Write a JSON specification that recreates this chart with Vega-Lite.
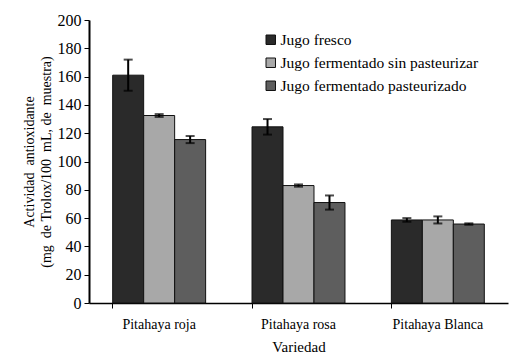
{
  "$schema": "https://vega.github.io/schema/vega-lite/v6.json",
  "width": 419,
  "height": 283,
  "autosize": {"type": "none"},
  "padding": {"left": 89, "top": 20, "right": 2, "bottom": 50},
  "background": "white",
  "config": {
    "font": "Liberation Serif",
    "view": {"stroke": null},
    "axis": {"labelFont": "Liberation Serif", "titleFont": "Liberation Serif", "labelColor": "black", "titleColor": "black", "domainColor": "black", "tickColor": "black", "grid": false, "titleFontWeight": "normal"},
    "axisY": {"labelOverlap": false, "labelFontSize": 16, "titleFontSize": 14, "tickSize": 5, "labelPadding": 3, "titlePadding": 4, "domainWidth": 2, "titleLineHeight": 17},
    "legend": {"labelFont": "Liberation Serif", "labelColor": "black"}
  },
  "data": {
    "values": [
      {"variedad": "Pitahaya roja", "jugo": "Jugo fresco", "valor": 161, "lo": 150, "hi": 172},
      {"variedad": "Pitahaya roja", "jugo": "Jugo fermentado sin pasteurizar", "valor": 132.5, "lo": 131.5, "hi": 133.5},
      {"variedad": "Pitahaya roja", "jugo": "Jugo fermentado pasteurizado", "valor": 115.5, "lo": 113, "hi": 118},
      {"variedad": "Pitahaya rosa", "jugo": "Jugo fresco", "valor": 124.5, "lo": 119, "hi": 130},
      {"variedad": "Pitahaya rosa", "jugo": "Jugo fermentado sin pasteurizar", "valor": 83, "lo": 82.2, "hi": 83.8},
      {"variedad": "Pitahaya rosa", "jugo": "Jugo fermentado pasteurizado", "valor": 71, "lo": 66, "hi": 76},
      {"variedad": "Pitahaya Blanca", "jugo": "Jugo fresco", "valor": 58.7, "lo": 57.4, "hi": 60},
      {"variedad": "Pitahaya Blanca", "jugo": "Jugo fermentado sin pasteurizar", "valor": 58.7, "lo": 56.2, "hi": 61.2},
      {"variedad": "Pitahaya Blanca", "jugo": "Jugo fermentado pasteurizado", "valor": 55.8, "lo": 55.3, "hi": 56.3}
    ]
  },
  "encoding": {
    "x": {
      "field": "variedad", "type": "nominal",
      "sort": ["Pitahaya roja", "Pitahaya rosa", "Pitahaya Blanca"],
      "scale": {"paddingInner": 0.333, "paddingOuter": 0.17},
      "axis": {"title": "Variedad", "labelAngle": 0, "labelFontSize": 14, "titleFontSize": 15, "tickSize": 5, "bandPosition": 0, "labelPadding": 9, "titlePadding": 8, "domainWidth": 1.5, "tickWidth": 1}
    },
    "xOffset": {"field": "jugo", "type": "nominal", "sort": ["Jugo fresco", "Jugo fermentado sin pasteurizar", "Jugo fermentado pasteurizado"], "scale": {"paddingInner": 0, "paddingOuter": 0}}
  },
  "layer": [
    {
      "mark": {"type": "bar", "stroke": "#111111", "strokeWidth": 1},
      "encoding": {
        "y": {
          "field": "valor", "type": "quantitative",
          "scale": {"domain": [0, 200], "nice": false},
          "axis": {"values": [0, 20, 40, 60, 80, 100, 120, 140, 160, 180, 200], "title": ["Actividad\u00a0\u00a0antioxidante", "(mg\u00a0\u00a0de\u00a0Trolox/100\u00a0\u00a0mL,\u00a0de\u00a0\u00a0muestra)"]}
        },
        "color": {
          "field": "jugo", "type": "nominal",
          "sort": ["Jugo fresco", "Jugo fermentado sin pasteurizar", "Jugo fermentado pasteurizado"],
          "scale": {"domain": ["Jugo fresco", "Jugo fermentado sin pasteurizar", "Jugo fermentado pasteurizado"], "range": ["#2a2a2a", "#a8a8a8", "#5e5e5e"]},
          "legend": {"title": null, "orient": "none", "legendX": 174, "legendY": 12, "symbolType": "square", "symbolSize": 90, "symbolStrokeColor": "#111111", "symbolStrokeWidth": 1, "labelFontSize": 15.5, "labelLimit": 0, "rowPadding": 6, "labelOffset": 2}
        }
      }
    },
    {
      "mark": {"type": "rule", "color": "black", "strokeWidth": 2},
      "encoding": {
        "y": {"field": "lo", "type": "quantitative", "axis": {"values": [0, 20, 40, 60, 80, 100, 120, 140, 160, 180, 200], "title": ["Actividad\u00a0\u00a0antioxidante", "(mg\u00a0\u00a0de\u00a0Trolox/100\u00a0\u00a0mL,\u00a0de\u00a0\u00a0muestra)"]}},
        "y2": {"field": "hi"}
      }
    },
    {
      "mark": {"type": "tick", "color": "black", "size": 9, "thickness": 2},
      "encoding": {"y": {"field": "lo", "type": "quantitative", "axis": {"values": [0, 20, 40, 60, 80, 100, 120, 140, 160, 180, 200], "title": ["Actividad\u00a0\u00a0antioxidante", "(mg\u00a0\u00a0de\u00a0Trolox/100\u00a0\u00a0mL,\u00a0de\u00a0\u00a0muestra)"]}}}
    },
    {
      "mark": {"type": "tick", "color": "black", "size": 9, "thickness": 2},
      "encoding": {"y": {"field": "hi", "type": "quantitative", "axis": {"values": [0, 20, 40, 60, 80, 100, 120, 140, 160, 180, 200], "title": ["Actividad\u00a0\u00a0antioxidante", "(mg\u00a0\u00a0de\u00a0Trolox/100\u00a0\u00a0mL,\u00a0de\u00a0\u00a0muestra)"]}}}
    }
  ]
}
